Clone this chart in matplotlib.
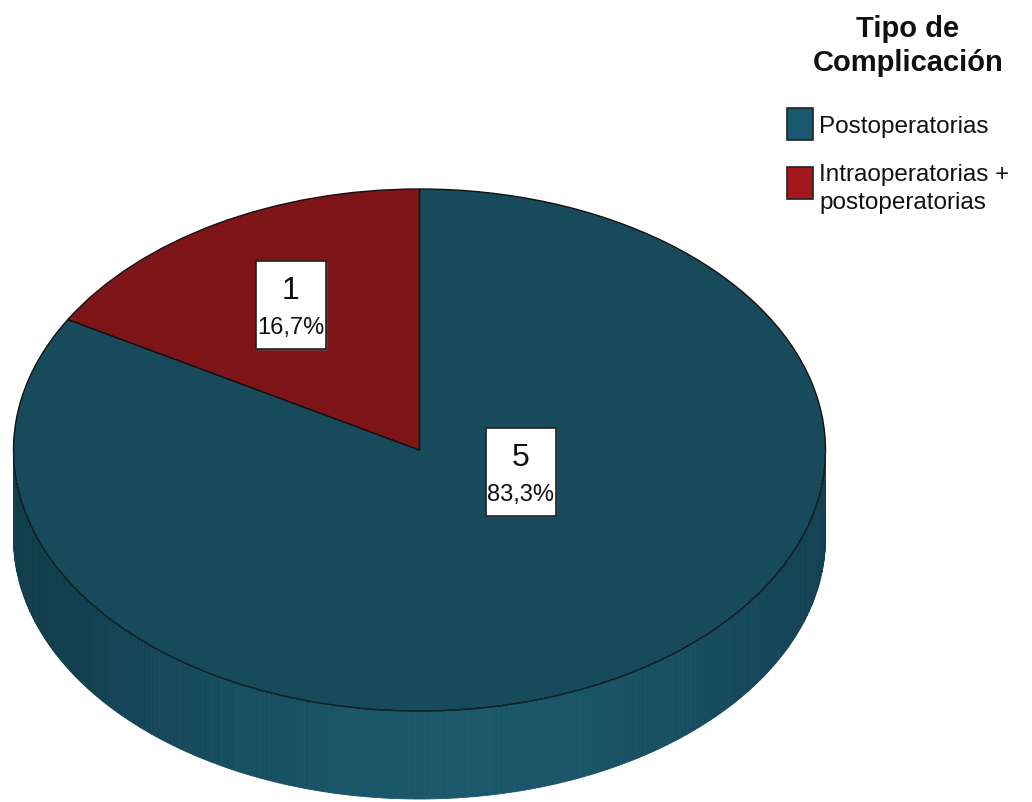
import numpy as np
import matplotlib
matplotlib.use("Agg")
import matplotlib.pyplot as plt
from matplotlib.patches import Polygon, Rectangle
from matplotlib import font_manager

# Data
categories = ["Postoperatorias", "Intraoperatorias +\npostoperatorias"]
counts = [5, 1]
legend_title = "Tipo de\nComplicación"

top_colors = ["#174a5b", "#7e1518"]
legend_colors = ["#1a5a70", "#a3181c"]

fonts = [f.name for f in font_manager.fontManager.ttflist]
narrow = "Liberation Sans Narrow" if "Liberation Sans Narrow" in fonts else "Liberation Sans"
plt.rcParams["font.family"] = [narrow, "DejaVu Sans"]

W, H = 1032, 803
fig = plt.figure(figsize=(W / 100, H / 100), dpi=100)
fig.patch.set_facecolor("white")

# Pie axes: unit circle squashed into an ellipse (406 x 261 px)
cx, cy = 419.5, 451.0
rx, ry = 406.0, 261.0
depth = 88.0 / ry
ax = fig.add_axes([0, 0, 1, 1])
ax.set_axis_off()

# Side wall of the front half, drawn as thin strips with shading
dark = np.array([0x11, 0x3d, 0x4d]) / 255
light = np.array([0x1b, 0x58, 0x6c]) / 255
n = 240
edges = np.linspace(np.pi, 2 * np.pi, n + 1)
for t0, t1 in zip(edges[:-1], edges[1:]):
    t = np.linspace(t0, t1, 4)
    top = np.column_stack([np.cos(t), np.sin(t)])
    bot = np.column_stack([np.cos(t[::-1]), np.sin(t[::-1]) - depth])
    xm = np.cos(0.5 * (t0 + t1))
    w = np.clip(1 - abs(xm - 0.1) ** 1.6, 0, 1)
    c = dark + (light - dark) * w
    ax.add_patch(Polygon(np.vstack([top, bot]), closed=True,
                         facecolor=c, edgecolor=c, linewidth=0.6, zorder=1))

wedges, _ = ax.pie(counts, colors=top_colors, startangle=90, counterclock=False,
                   radius=1.0, center=(0, 0),
                   wedgeprops=dict(edgecolor="#111111", linewidth=1.0))
for wdg in wedges:
    wdg.set_zorder(2)

# Thin seam between top face and wall
t = np.linspace(np.pi, 2 * np.pi, 300)
ax.plot(np.cos(t), np.sin(t), color="#0c2f3b", linewidth=0.8, linestyle=(0, (2, 1.5)), zorder=3)

ax.set_aspect("auto")
ax.set_xlim(-cx / rx, (W - cx) / rx)
ax.set_ylim(-(H - cy) / ry, cy / ry)

# Overlay axes in pixel coordinates for labels and legend
ov = fig.add_axes([0, 0, 1, 1], facecolor="none")
ov.set_xlim(0, W)
ov.set_ylim(H, 0)
ov.set_axis_off()

total = sum(counts)
label_pos = [(521, 473), (290.5, 306)]
for (x, y), v in zip(label_pos, counts):
    ov.add_patch(Rectangle((x - 33, y - 42), 70, 88, facecolor="#555555",
                           edgecolor="none", alpha=0.5, zorder=4))
    ov.add_patch(Rectangle((x - 35, y - 44), 70, 88, facecolor="white",
                           edgecolor="#222222", linewidth=1.2, zorder=5))
    ov.text(x, y - 15, f"{v}", ha="center", va="center", fontsize=23,
            color="#111111", zorder=6)
    pct = f"{100 * v / total:.1f}%".replace(".", ",")
    ov.text(x, y + 22, pct, ha="center", va="center", fontsize=17,
            color="#111111", zorder=6)

# Legend
ov.text(908, 46, legend_title, ha="center", va="center", fontsize=21,
        fontweight="bold", linespacing=1.3, color="#111111")
entry_y = [125, 184]
text_y = [127, 189]
for c, lab, ey, ty in zip(legend_colors, categories, entry_y, text_y):
    ov.add_patch(Rectangle((787, ey - 16), 26, 32, facecolor=c,
                           edgecolor="#222222", linewidth=1.2))
    ov.text(819, ty, lab, ha="left", va="center", fontsize=17.5,
            linespacing=1.3, color="#111111")

fig.savefig("out.png", dpi=100, facecolor="white")
